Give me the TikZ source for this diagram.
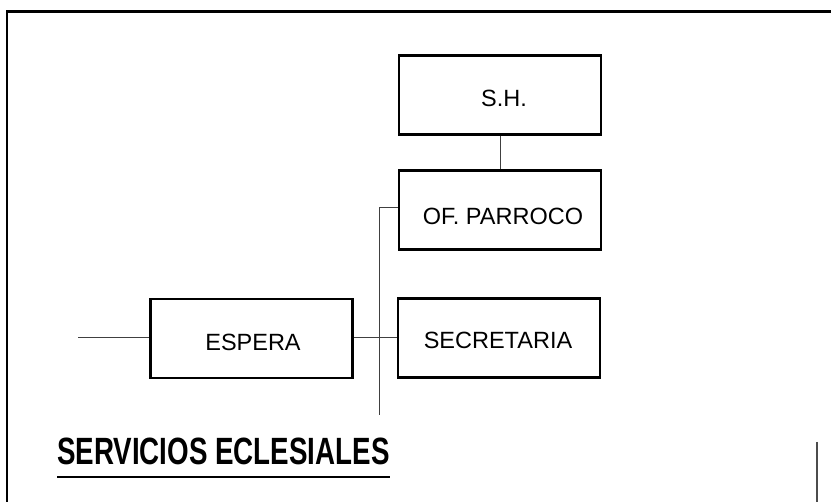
\documentclass[tikz,border=0pt]{standalone}
\usepackage{fontspec}
\setmainfont{Liberation Sans}
\begin{document}
\begin{tikzpicture}[x=1pt,y=-1pt,
  box/.style={draw=black,line width=2.8pt,minimum width=202pt,minimum height=79pt,inner sep=0pt},
  lbl/.style={font=\fontsize{23.5}{26}\selectfont,inner sep=0pt,anchor=base},
  conn/.style={draw=black!75,line width=1pt},
  frame/.style={line width=2.8pt}]
\useasboundingbox (0,0) rectangle (831,502);
% frame (top and left edges)
\draw[frame] (7,502) -- (7,11.5) -- (831,11.5);
% boxes
\node[box] (sh)  at (500,95)  {};
\node[box] (of)  at (500,210) {};
\node[box] (esp) at (251.5,338.5) {};
\node[box] (sec) at (499,338) {};
% labels
\node[lbl] at (504,107) {S.H.};
\node[lbl] at (503,225) {OF. PARROCO};
\node[lbl] at (253,351) {ESPERA};
\node[lbl] at (498,349) {SECRETARIA};
% connectors
\coordinate (jt) at (379,208);
\coordinate (jb) at (379,415);
\coordinate (lin) at (78,338);
\draw[conn] (sh.south) -- (of.north);
\draw[conn] (of.west |- jt) -- (jt) -- (jb);
\draw[conn] (esp.east |- lin) -- (sec.west |- lin);
\draw[conn] (lin) -- (esp.west |- lin);
% title
\node[inner sep=0pt,anchor=base west,font=\bfseries\fontsize{38}{42}\selectfont] (title) at (57,464.5) {\scalebox{0.73}[1]{SERVICIOS ECLESIALES}};
\draw[line width=2.4pt] (title.base west |- 0,477) -- (title.base east |- 0,477);
% right bottom line
\coordinate (rt) at (817,442);
\coordinate (rb) at (817,502);
\draw[draw=black!70,line width=1.4pt] (rt) -- (rb);
\end{tikzpicture}
\end{document}
